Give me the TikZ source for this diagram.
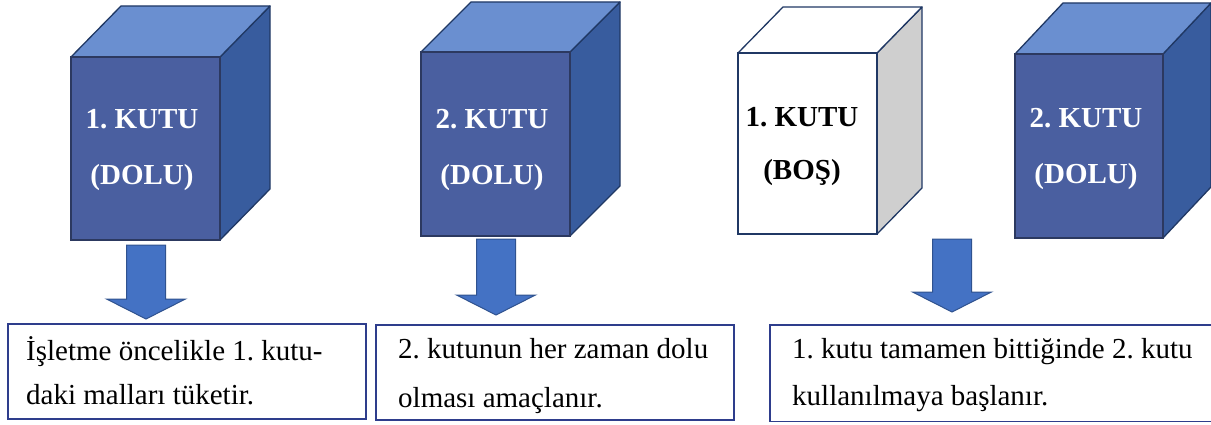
\documentclass[tikz,border=0pt]{standalone}
\usepackage{fontspec}
\setmainfont{Liberation Serif}
\frenchspacing
\definecolor{frontc}{HTML}{4A5FA0}
\definecolor{topc}{HTML}{6A8FD0}
\definecolor{sidec}{HTML}{385C9E}
\definecolor{edgec}{HTML}{203864}
\definecolor{greyside}{HTML}{CFCFCF}
\definecolor{arrowc}{HTML}{4472C4}
\definecolor{arrowedge}{HTML}{2F528F}
\definecolor{boxc}{HTML}{2E3D8C}
\newcommand\kutu[9]{%
  \fill[#9,draw=edgec,line width=1.3pt,line join=round] ({#1+#3},#2) -- ++(#5,-#6) -- ++(0,#4) -- ++(-#5,#6) -- cycle;
  \fill[#8,draw=edgec,line width=1.3pt,line join=round] (#1,#2) -- ++(#5,-#6) -- ++(#3,0) -- ++(-#5,#6) -- cycle;
  \fill[#7,draw=#7!60!black,line width=1.3pt] (#1,#2) rectangle ++(#3,#4);
}
\newcommand\okbig[3]{% x center, top y, tip y
  \fill[arrowc,draw=arrowedge,line width=1pt,line join=miter]
    ({#1-19.5},#2) -- ({#1+19.5},#2) -- ({#1+19.5},{#3-20}) -- ({#1+39.5},{#3-20})
    -- (#1,#3) -- ({#1-39.5},{#3-20}) -- ({#1-19.5},{#3-20}) -- cycle;
}
\tikzset{
  cubelabel/.style={font=\fontsize{29}{34}\selectfont\bfseries, text=white, inner sep=0pt, anchor=base},
  cubelabeldark/.style={cubelabel, text=black},
  boxtext/.style={font=\fontsize{29}{34}\selectfont, text=black, inner sep=0pt, anchor=base west},
  textbox/.style={draw=boxc, line width=1.6pt, fill=white, inner sep=0pt, anchor=north west},
  boxline/.style={draw=boxc, line width=1.6pt},
}
\begin{document}
\begin{tikzpicture}[x=1pt,y=-1pt]
\useasboundingbox (0,0) rectangle (1211,425);
% cubes
\kutu{71}{57}{149}{183}{50}{51}{frontc}{topc}{sidec}
\kutu{421}{52}{149}{184}{50}{50}{frontc}{topc}{sidec}
\kutu{738}{53}{139}{181}{45}{46}{white}{white}{greyside}
\kutu{1015}{54}{148}{184}{48}{51}{frontc}{topc}{sidec}
\draw[edgec,line width=1.3pt] (738,53) rectangle (877,234);
% cube labels
\node[cubelabel] (k1a) at (142,129) {1. KUTU};
\node[cubelabel] (k1b) at (142,185) {(DOLU)};
\node[cubelabel] (k2a) at (492,129) {2. KUTU};
\node[cubelabel] (k2b) at (492,185) {(DOLU)};
\node[cubelabeldark] (k3a) at (802,127) {1. KUTU};
\node[cubelabeldark] (k3b) at (802,180) {(BOŞ)};
\node[cubelabel] (k4a) at (1086,128) {2. KUTU};
\node[cubelabel] (k4b) at (1086,183) {(DOLU)};
% arrows
\okbig{146}{245}{319}
\okbig{496}{239}{315}
\okbig{952}{239}{312}
% text boxes
\node[textbox, minimum width=358pt, minimum height=95pt] (b1) at (7,323) {};
\node[textbox, minimum width=358pt, minimum height=95pt] (b2) at (375,324) {};
\node[inner sep=0pt, anchor=north west, minimum width=480pt, minimum height=96pt] (b3) at (770,325) {};
\draw[boxline] (b3.north east) -- (b3.north west) -- (b3.south west) -- (b3.south east);
\node[boxtext] (t1a) at (26,360) {İşletme öncelikle 1. kutu-};
\node[boxtext] (t1b) at (26,404) {daki malları tüketir.};
\node[boxtext] (t2a) at (398,358) {2. kutunun her zaman dolu};
\node[boxtext] (t2b) at (398,407) {olması amaçlanır.};
\node[boxtext] (t3a) at (792,358) {1. kutu tamamen bittiğinde 2. kutu};
\node[boxtext] (t3b) at (792,405) {kullanılmaya başlanır.};
\end{tikzpicture}
\end{document}
